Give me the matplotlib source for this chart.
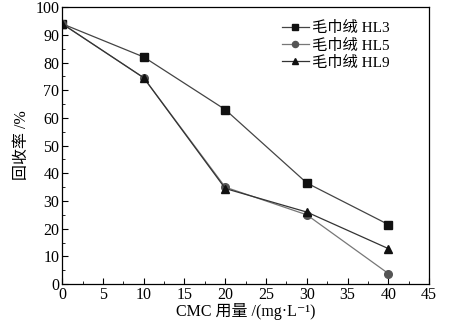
import matplotlib.pyplot as plt
from matplotlib.ticker import MultipleLocator

plt.rcParams['font.family'] = ['Liberation Serif', 'Noto Sans CJK SC', 'DejaVu Serif']

# CMC dosage (mg/L) and recovery (%)
cmc = [0, 10, 20, 30, 40]
hl3 = [94, 82, 63, 36.5, 21.5]
hl5 = [94, 74.5, 35, 25, 3.8]
hl9 = [94, 74.5, 34.5, 26, 12.8]
labels = ['毛巾绒 HL3', '毛巾绒 HL5', '毛巾绒 HL9']

fig = plt.figure(figsize=(4.57, 3.25), dpi=100)
ax = fig.add_axes([0.136, 0.126, 0.803, 0.852])

ax.plot(cmc, hl3, color='#444444', lw=0.9, marker='s', ms=5.5,
        mfc='#111111', mec='#111111', label=labels[0])
ax.plot(cmc, hl5, color='#777777', lw=0.9, marker='o', ms=5.5,
        mfc='#555555', mec='#555555', label=labels[1])
ax.plot(cmc, hl9, color='#333333', lw=0.9, marker='^', ms=6,
        mfc='#111111', mec='#111111', label=labels[2])

ax.set_xlim(0, 45)
ax.set_ylim(0, 100)
ax.xaxis.set_major_locator(MultipleLocator(5))
ax.xaxis.set_minor_locator(MultipleLocator(2.5))
ax.yaxis.set_major_locator(MultipleLocator(10))
ax.yaxis.set_minor_locator(MultipleLocator(5))
ax.tick_params(which='both', direction='in', labelsize=11.5, pad=2)
ax.tick_params(which='major', length=4)
ax.tick_params(which='minor', length=2.5)
for s in ax.spines.values():
    s.set_linewidth(0.9)

ax.set_xlabel('CMC 用量 /(mg·L⁻¹)', fontsize=11.5, labelpad=0)
ax.set_ylabel('回收率 /%', fontsize=11.5, labelpad=4)

ax.legend(loc='upper right', frameon=False, fontsize=11, handlelength=1.8,
          handletextpad=0.2, labelspacing=0.2, markerscale=0.8,
          bbox_to_anchor=(0.93, 1.0))

fig.savefig('out.png', dpi=100)
